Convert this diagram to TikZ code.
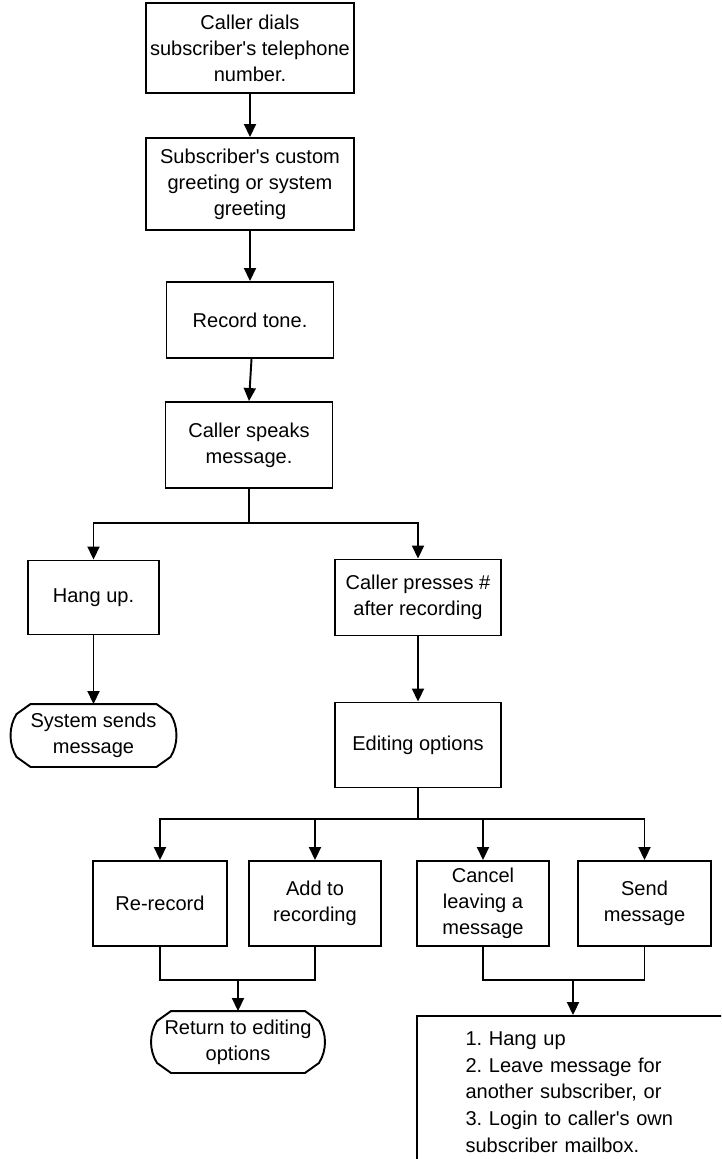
\documentclass[tikz,border=0pt]{standalone}
\usepackage{fontspec}
\setmainfont{Liberation Sans}
\usepackage{tikz}
\usetikzlibrary{arrows.meta}
\frenchspacing

\tikzset{
  stepbox/.style={draw, align=center, inner sep=1pt},
  termbox/.style={align=center, inner sep=1pt},
  arr/.style={-{Triangle[length=0.26cm, width=0.24cm]}}
}

% outline of a terminal node: flat top and bottom, bowed ends
\newcommand{\termline}[1]{%
  \draw ([xshift=0.42cm]#1.north west) -- ([xshift=-0.42cm]#1.north east)
    -- ([xshift=-0.14cm, yshift=-0.2cm]#1.north east)
    .. controls ([xshift=0.02cm, yshift=-0.45cm]#1.north east) and ([xshift=0.02cm, yshift=0.45cm]#1.south east) .. ([xshift=-0.14cm, yshift=0.2cm]#1.south east)
    -- ([xshift=-0.42cm]#1.south east) -- ([xshift=0.42cm]#1.south west)
    -- ([xshift=0.14cm, yshift=0.2cm]#1.south west)
    .. controls ([xshift=-0.02cm, yshift=0.45cm]#1.south west) and ([xshift=-0.02cm, yshift=-0.45cm]#1.north west) .. ([xshift=0.14cm, yshift=-0.2cm]#1.north west)
    -- cycle;}
\newcommand{\apos}{\textquotesingle}

\begin{document}
\begin{tikzpicture}[line width=1.1pt, font=\fontsize{11.4}{14.8}\selectfont]
    \useasboundingbox (0, 0) rectangle (14.42, -23.18);
    \clip (0, 0) rectangle (14.42, -23.18);

    % main line
    \node [stepbox, minimum width=4.16cm, minimum height=1.80cm] (dial) at (5.00, -0.96) {Caller dials\\subscriber\apos s telephone\\number.};
    \node [stepbox, minimum width=4.16cm, minimum height=1.84cm] (greet) at (5.00, -3.68) {Subscriber\apos s custom\\greeting or system\\greeting};
    \node [stepbox, minimum width=3.34cm, minimum height=1.52cm] (tone) at (5.00, -6.40) {Record tone.};
    \node [stepbox, minimum width=3.34cm, minimum height=1.72cm] (speak) at (4.98, -8.90) {Caller speaks\\message.};

    \draw [arr] (dial) -- (greet);
    \draw [arr] (greet) -- (tone);
    \draw [arr] ([xshift=0.03cm]tone.south) -- (speak.north);

    % first split
    \coordinate (split1) at (4.98, -10.46);
    \node [stepbox, minimum width=2.62cm, minimum height=1.48cm] (hangup) at (1.87, -11.95) {Hang up.};
    \node [stepbox, minimum width=3.32cm, minimum height=1.52cm] (presses) at (8.36, -11.95) {Caller presses \#\\after recording};

    \draw (speak) -- (split1);
    \draw [arr] (split1) -| (hangup);
    \draw [arr] (split1) -| (presses);

    \node [termbox, minimum width=3.32cm, minimum height=1.22cm] (sysmsg) at (1.87, -14.71) {System sends\\message};
    \termline{sysmsg}
    \draw [arr] (hangup) -- (sysmsg);

    \node [stepbox, minimum width=3.32cm, minimum height=1.70cm] (editing) at (8.36, -14.90) {Editing options};
    \draw [arr] (presses) -- (editing);

    % editing choices
    \coordinate (split2) at (8.36, -16.38);
    \node [stepbox, minimum width=2.68cm, minimum height=1.70cm] (rerec) at (3.20, -18.07) {Re-record};
    \node [stepbox, minimum width=2.64cm, minimum height=1.70cm] (addrec) at (6.30, -18.07) {Add to\\recording};
    \node [stepbox, minimum width=2.64cm, minimum height=1.70cm] (cancel) at (9.66, -18.07) {Cancel\\leaving a\\message};
    \node [stepbox, minimum width=2.66cm, minimum height=1.70cm] (send) at (12.89, -18.07) {Send\\message};

    \draw (editing) -- (split2);
    \draw [arr] (split2) -| (rerec);
    \draw [arr] (split2) -| (addrec);
    \draw [arr] (split2) -| (cancel);
    \draw [arr] (split2) -| (send);

    % merges
    \coordinate (mergeL) at (4.76, -19.60);
    \coordinate (mergeR) at (11.46, -19.60);
    \draw (rerec.south) |- (mergeL) -| (addrec.south);
    \draw (cancel.south) |- (mergeR) -| (send.south);

    \node [termbox, minimum width=3.48cm, minimum height=1.20cm] (retopt) at (4.76, -20.84) {Return to editing\\options};
    \termline{retopt}
    \draw [arr] (mergeL) -- (retopt);

    \node [stepbox, align=left, text width=4.3cm, minimum width=6.24cm, minimum height=3.04cm, font=\fontsize{11.4}{15.2}\selectfont] (choices) at (11.46, -21.84) {1. Hang up\\2. Leave message for\\another subscriber, or\\3. Login to caller\apos s own\\subscriber mailbox.};
    \draw [arr] (mergeR) -- (choices);
\end{tikzpicture}
\end{document}
